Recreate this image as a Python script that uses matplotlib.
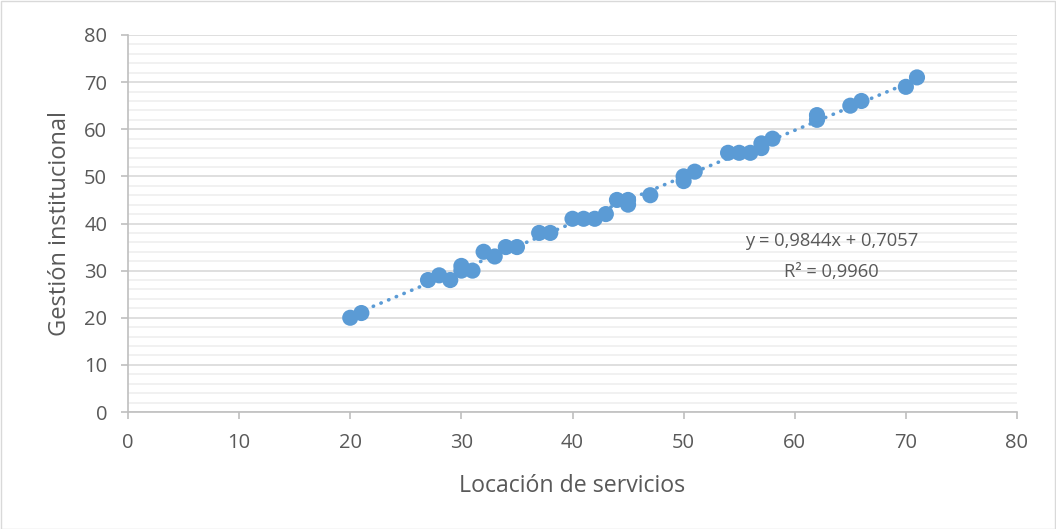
import matplotlib
matplotlib.use("Agg")
import matplotlib.pyplot as plt
from matplotlib.patches import Rectangle
import numpy as np

x_vals = [20, 21, 27, 28, 29, 30, 30, 31, 32, 33, 34, 35, 37, 38, 40, 41, 42, 43,
          44, 45, 45, 47, 50, 50, 51, 54, 55, 56, 57, 57, 58, 62, 62, 65, 66, 70, 71]
y_vals = [20, 21, 28, 29, 28, 31, 30, 30, 34, 33, 35, 35, 38, 38, 41, 41, 41, 42,
          45, 45, 44, 46, 49, 50, 51, 55, 55, 55, 56, 57, 58, 62, 63, 65, 66, 69, 71]
slope = 0.9844
intercept = 0.7057
eq_text = "y = 0,9844x + 0,7057"
r2_text = "R² = 0,9960"
x_label = "Locación de servicios"
y_label = "Gestión institucional"

plt.rcParams['font.family'] = ['Open Sans', 'DejaVu Sans']
blue = "#5B9BD5"
gray_txt = "#595959"

fig = plt.figure(figsize=(10.56, 5.29), dpi=100)
W, H = 1056, 529
ax = fig.add_axes([128 / W, 1 - 412 / H, (1017 - 128) / W, (412 - 35) / H])

fig.patches.append(Rectangle((0.5 / W, 0.5 / H), 1 - 1.5 / W, 1 - 1.5 / H,
                             transform=fig.transFigure, fill=False,
                             edgecolor="#D9D9D9", lw=1))

ax.set_xlim(0, 80)
ax.set_ylim(0, 80)
ax.set_xticks(np.arange(0, 81, 10))
ax.set_yticks(np.arange(0, 81, 10))
ax.set_yticks(np.arange(0, 81, 2), minor=True)
ax.grid(which="major", axis="y", color="#D9D9D9", lw=1.2)
ax.grid(which="minor", axis="y", color="#EFEFEF", lw=1.2)
ax.set_axisbelow(True)

for s in ["top", "right"]:
    ax.spines[s].set_visible(False)
for s in ["left", "bottom"]:
    ax.spines[s].set_color("#BFBFBF")
    ax.spines[s].set_linewidth(1.2)
ax.tick_params(which="major", length=5, color="#BFBFBF", width=1.2,
               labelsize=14.5, labelcolor=gray_txt)
ax.tick_params(axis="x", which="major", pad=10)
ax.tick_params(axis="y", which="major", pad=10)
ax.tick_params(which="minor", length=0)

xs = np.array([min(x_vals), max(x_vals)])
ax.plot(xs, slope * xs + intercept, color=blue, lw=2.6,
        linestyle=(0, (0.1, 2.2)), dash_capstyle="round", zorder=2)
ax.scatter(x_vals, y_vals, s=135, color=blue, edgecolors="none", zorder=3)

ax.text(63.3, 36.2, eq_text, ha="center", va="center", fontsize=13.2, color=gray_txt)
ax.text(63.3, 29.8, r2_text, ha="center", va="center", fontsize=13.2, color=gray_txt)

ax.set_xlabel(x_label, fontsize=16.7, color=gray_txt, labelpad=15)
ax.set_ylabel(y_label, fontsize=17, color=gray_txt, labelpad=9)

fig.savefig("out.png", dpi=100)
